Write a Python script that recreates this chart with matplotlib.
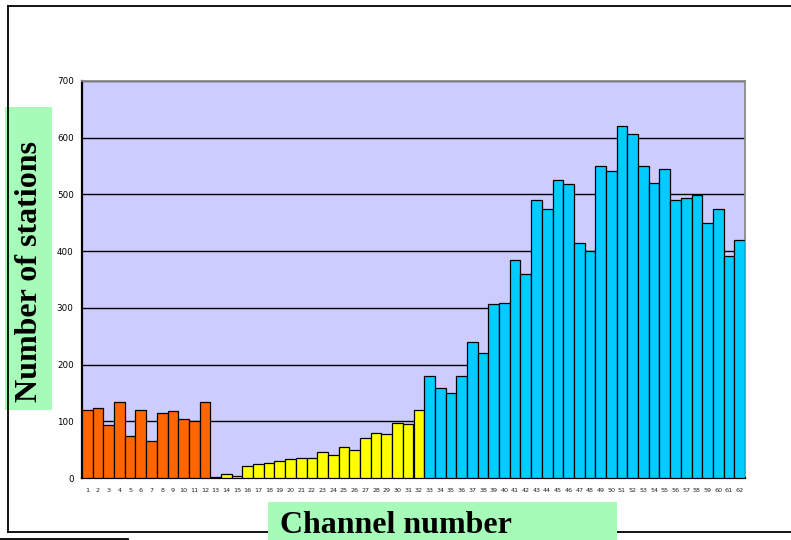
import numpy as np
import matplotlib
matplotlib.use('Agg')
import matplotlib.pyplot as plt
from matplotlib.patches import Rectangle
from matplotlib.lines import Line2D

# stations per channel, grouped by band
channels = list(range(1, 63))
stations_low = [120, 124, 94, 134, 74, 120, 65, 115, 118, 104, 100, 134]       # ch 1-12
stations_mid = [0, 7, 3, 22, 25, 27, 30, 33, 35, 36, 45, 40, 55, 50, 70, 80,
                78, 97, 95, 120]                                               # ch 13-32
stations_high = [180, 159, 149, 180, 240, 220, 307, 309, 385, 360, 490, 475,
                 525, 519, 414, 400, 550, 541, 620, 606, 550, 520, 544, 490,
                 494, 499, 450, 475, 391, 420]                                 # ch 33-62
band_colors = ['#ff6600', '#ffff00', '#00ccff']
yticks = [0, 100, 200, 300, 400, 500, 600, 700]

values = stations_low + stations_mid + stations_high
colors = ([band_colors[0]] * len(stations_low) + [band_colors[1]] * len(stations_mid)
          + [band_colors[2]] * len(stations_high))

fig = plt.figure(figsize=(7.91, 5.40), dpi=100)
ax = fig.add_axes([82 / 791, 62 / 540, 663 / 791, 397 / 540])
ax.set_facecolor('#ccccff')

# empty channels get no outline
edges = ['black' if v > 0 else 'none' for v in values]
ax.bar(channels, values, width=1.0, color=colors, edgecolor=edges, linewidth=0.9, zorder=3)

ax.set_xlim(0.5, 62.5)
ax.set_ylim(0, 700)
ax.set_yticks(yticks)
ax.set_xticks(channels)
ax.set_xticklabels([str(c) for c in channels], fontsize=4.6, color='#222222')
ax.set_yticklabels([str(t) for t in yticks], fontsize=6.3)
ax.tick_params(axis='x', length=0, pad=7)
ax.tick_params(axis='y', length=0, pad=6)
ax.yaxis.grid(True, color='black', linewidth=1.0, zorder=1)
ax.set_axisbelow(True)

for s in ['left', 'bottom']:
    ax.spines[s].set_color('black')
    ax.spines[s].set_linewidth(1.6)
for s in ['top', 'right']:
    ax.spines[s].set_color('#8a8a8a')
    ax.spines[s].set_linewidth(1.3)

# outer frame lines
fig.add_artist(Line2D([8 / 791, 8 / 791], [1 - 6 / 540, 1 - 532 / 540], color='black', lw=1.3))
fig.add_artist(Line2D([8 / 791, 1], [1 - 6 / 540, 1 - 6 / 540], color='black', lw=1.3))
fig.add_artist(Line2D([8 / 791, 1], [1 - 532 / 540, 1 - 532 / 540], color='black', lw=1.3))
fig.add_artist(Line2D([0, 128 / 791], [1 - 539 / 540, 1 - 539 / 540], color='black', lw=1.3))

# label boxes
green = '#a6fbb9'
fig.add_artist(Rectangle((5 / 791, 1 - 410 / 540), 47 / 791, 303 / 540,
                         transform=fig.transFigure, facecolor=green, edgecolor='none'))
fig.add_artist(Rectangle((268 / 791, 0), 349 / 791, 38 / 540,
                         transform=fig.transFigure, facecolor=green, edgecolor='none', zorder=2))

fig.text(30 / 791, 1 - 272 / 540, 'Number of stations', rotation=90, ha='center', va='center',
         family='Liberation Serif', fontweight='bold', fontsize=23)
fig.text(280 / 791, 1 - 533 / 540, 'Channel number', ha='left', va='baseline',
         family='Liberation Serif', fontweight='bold', fontsize=23, zorder=3)

fig.savefig('out.png', dpi=100)
